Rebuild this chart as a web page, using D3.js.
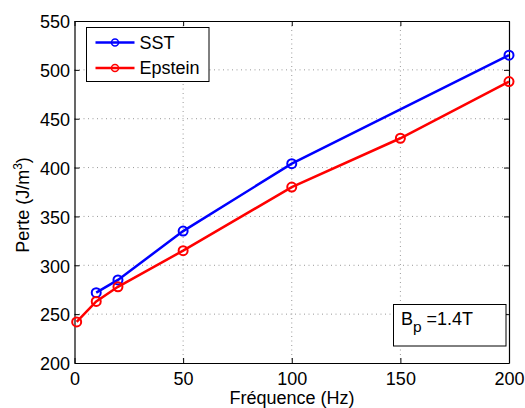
<!DOCTYPE html>
<html><head><meta charset="utf-8">
<script src="https://cdn.jsdelivr.net/npm/d3@7"></script>
<style>body{margin:0;background:#fff;} text{font-family:"Liberation Sans",Arial,sans-serif;}</style>
</head><body>
<svg id="c" width="525" height="408"></svg>
<script>
const sstFreq = [10, 20, 50, 100, 200];
const sstLoss = [272, 285, 335, 404, 515];
const epFreq = [1, 10, 20, 50, 100, 150, 200];
const epLoss = [242, 263, 278, 315, 380, 430, 488];
const xTicks = [0, 50, 100, 150, 200];
const yTicks = [200, 250, 300, 350, 400, 450, 500, 550];
const seriesNames = ["SST", "Epstein"];
const seriesColors = ["#0000ff", "#ff0000"];

const svg = d3.select("#c");
const L = 74.5, R = 509, T = 21, B = 363;
const x = d3.scaleLinear().domain([0, 200]).range([L, R]);
const y = d3.scaleLinear().domain([200, 550]).range([B, T]);

// grid
const g = svg.append("g");
g.selectAll("line.gx").data(xTicks.slice(1, -1)).enter().append("line")
  .attr("x1", d => x(d)).attr("x2", d => x(d)).attr("y1", T).attr("y2", B)
  .attr("stroke", "#999").attr("stroke-width", 1).attr("stroke-dasharray", "1,3.5");
g.selectAll("line.gy").data(yTicks.slice(1, -1)).enter().append("line")
  .attr("y1", d => y(d)).attr("y2", d => y(d)).attr("x1", L).attr("x2", R)
  .attr("stroke", "#999").attr("stroke-width", 1).attr("stroke-dasharray", "1,3.5");

// axes
const fs = "18px";
const ax = svg.append("g").attr("transform", `translate(0,${B})`)
  .call(d3.axisBottom(x).tickValues(xTicks).tickSizeInner(-5).tickSizeOuter(0).tickPadding(9));
const ay = svg.append("g").attr("transform", `translate(${L},0)`)
  .call(d3.axisLeft(y).tickValues(yTicks).tickSizeInner(-5).tickSizeOuter(0).tickPadding(4.5));
const at = svg.append("g").attr("transform", `translate(0,${T})`)
  .call(d3.axisTop(x).tickValues(xTicks).tickSizeInner(-5).tickSizeOuter(0).tickFormat(""));
const ar = svg.append("g").attr("transform", `translate(${R},0)`)
  .call(d3.axisRight(y).tickValues(yTicks).tickSizeInner(-5).tickSizeOuter(0).tickFormat(""));
[ax, ay, at, ar].forEach(a => {
  a.selectAll("text").attr("font-size", fs).attr("fill", "#000").attr("font-family", "Liberation Sans, Arial, sans-serif");
  a.selectAll("line").attr("stroke", "#000");
  a.select(".domain").attr("stroke", "#000").attr("stroke-width", 1.2);
});
ax.selectAll("text").attr("dy", "0.71em");
ay.selectAll("text").attr("dy", "0.38em");

// axis labels
svg.append("text").attr("x", 292).attr("y", 403.5).attr("text-anchor", "middle")
  .attr("font-size", fs).text("Fréquence (Hz)");
const yl = svg.append("text").attr("transform", `translate(28.5,205) rotate(-90)`)
  .attr("text-anchor", "middle").attr("font-size", fs);
yl.append("tspan").text("Perte (J/m");
yl.append("tspan").attr("font-size", "12px").attr("dy", "-7").text("3");
yl.append("tspan").attr("dy", "7").text(")");

// series
const series = [
  {name: seriesNames[0], color: seriesColors[0], pts: sstFreq.map((f, i) => [f, sstLoss[i]])},
  {name: seriesNames[1], color: seriesColors[1], pts: epFreq.map((f, i) => [f, epLoss[i]])}
];
const line = d3.line().x(d => x(d[0])).y(d => y(d[1]));
series.forEach(s => {
  svg.append("path").attr("d", line(s.pts)).attr("fill", "none")
    .attr("stroke", s.color).attr("stroke-width", 2.5);
  svg.selectAll(null).data(s.pts).enter().append("circle")
    .attr("cx", d => x(d[0])).attr("cy", d => y(d[1])).attr("r", 4.5)
    .attr("fill", "none").attr("stroke", s.color).attr("stroke-width", 2);
});

// legend
const lg = svg.append("g");
lg.append("rect").attr("x", 86.5).attr("y", 27.5).attr("width", 122.5).attr("height", 54)
  .attr("fill", "#fff").attr("stroke", "#000").attr("stroke-width", 1);
series.forEach((s, i) => {
  const yy = 42.5 + i * 25.5;
  lg.append("line").attr("x1", 95.5).attr("x2", 134.5).attr("y1", yy).attr("y2", yy)
    .attr("stroke", s.color).attr("stroke-width", 2.5);
  lg.append("circle").attr("cx", 115).attr("cy", yy).attr("r", 3.5)
    .attr("fill", "none").attr("stroke", s.color).attr("stroke-width", 1.5);
  lg.append("text").attr("x", 139.5).attr("y", yy + 6).attr("font-size", fs).text(s.name);
});

// annotation
const an = svg.append("g");
an.append("rect").attr("x", 393.5).attr("y", 304.5).attr("width", 112.5).attr("height", 41.5)
  .attr("fill", "#fff").attr("stroke", "#000").attr("stroke-width", 1);
const at2 = an.append("text").attr("x", 401).attr("y", 325).attr("font-size", fs);
at2.append("tspan").text("B");
at2.append("tspan").attr("font-size", "15.5px").attr("dy", "7").text("p");
at2.append("tspan").attr("x", 426.5).attr("dy", "-7").text("=1.4T");
</script>
</body></html>
